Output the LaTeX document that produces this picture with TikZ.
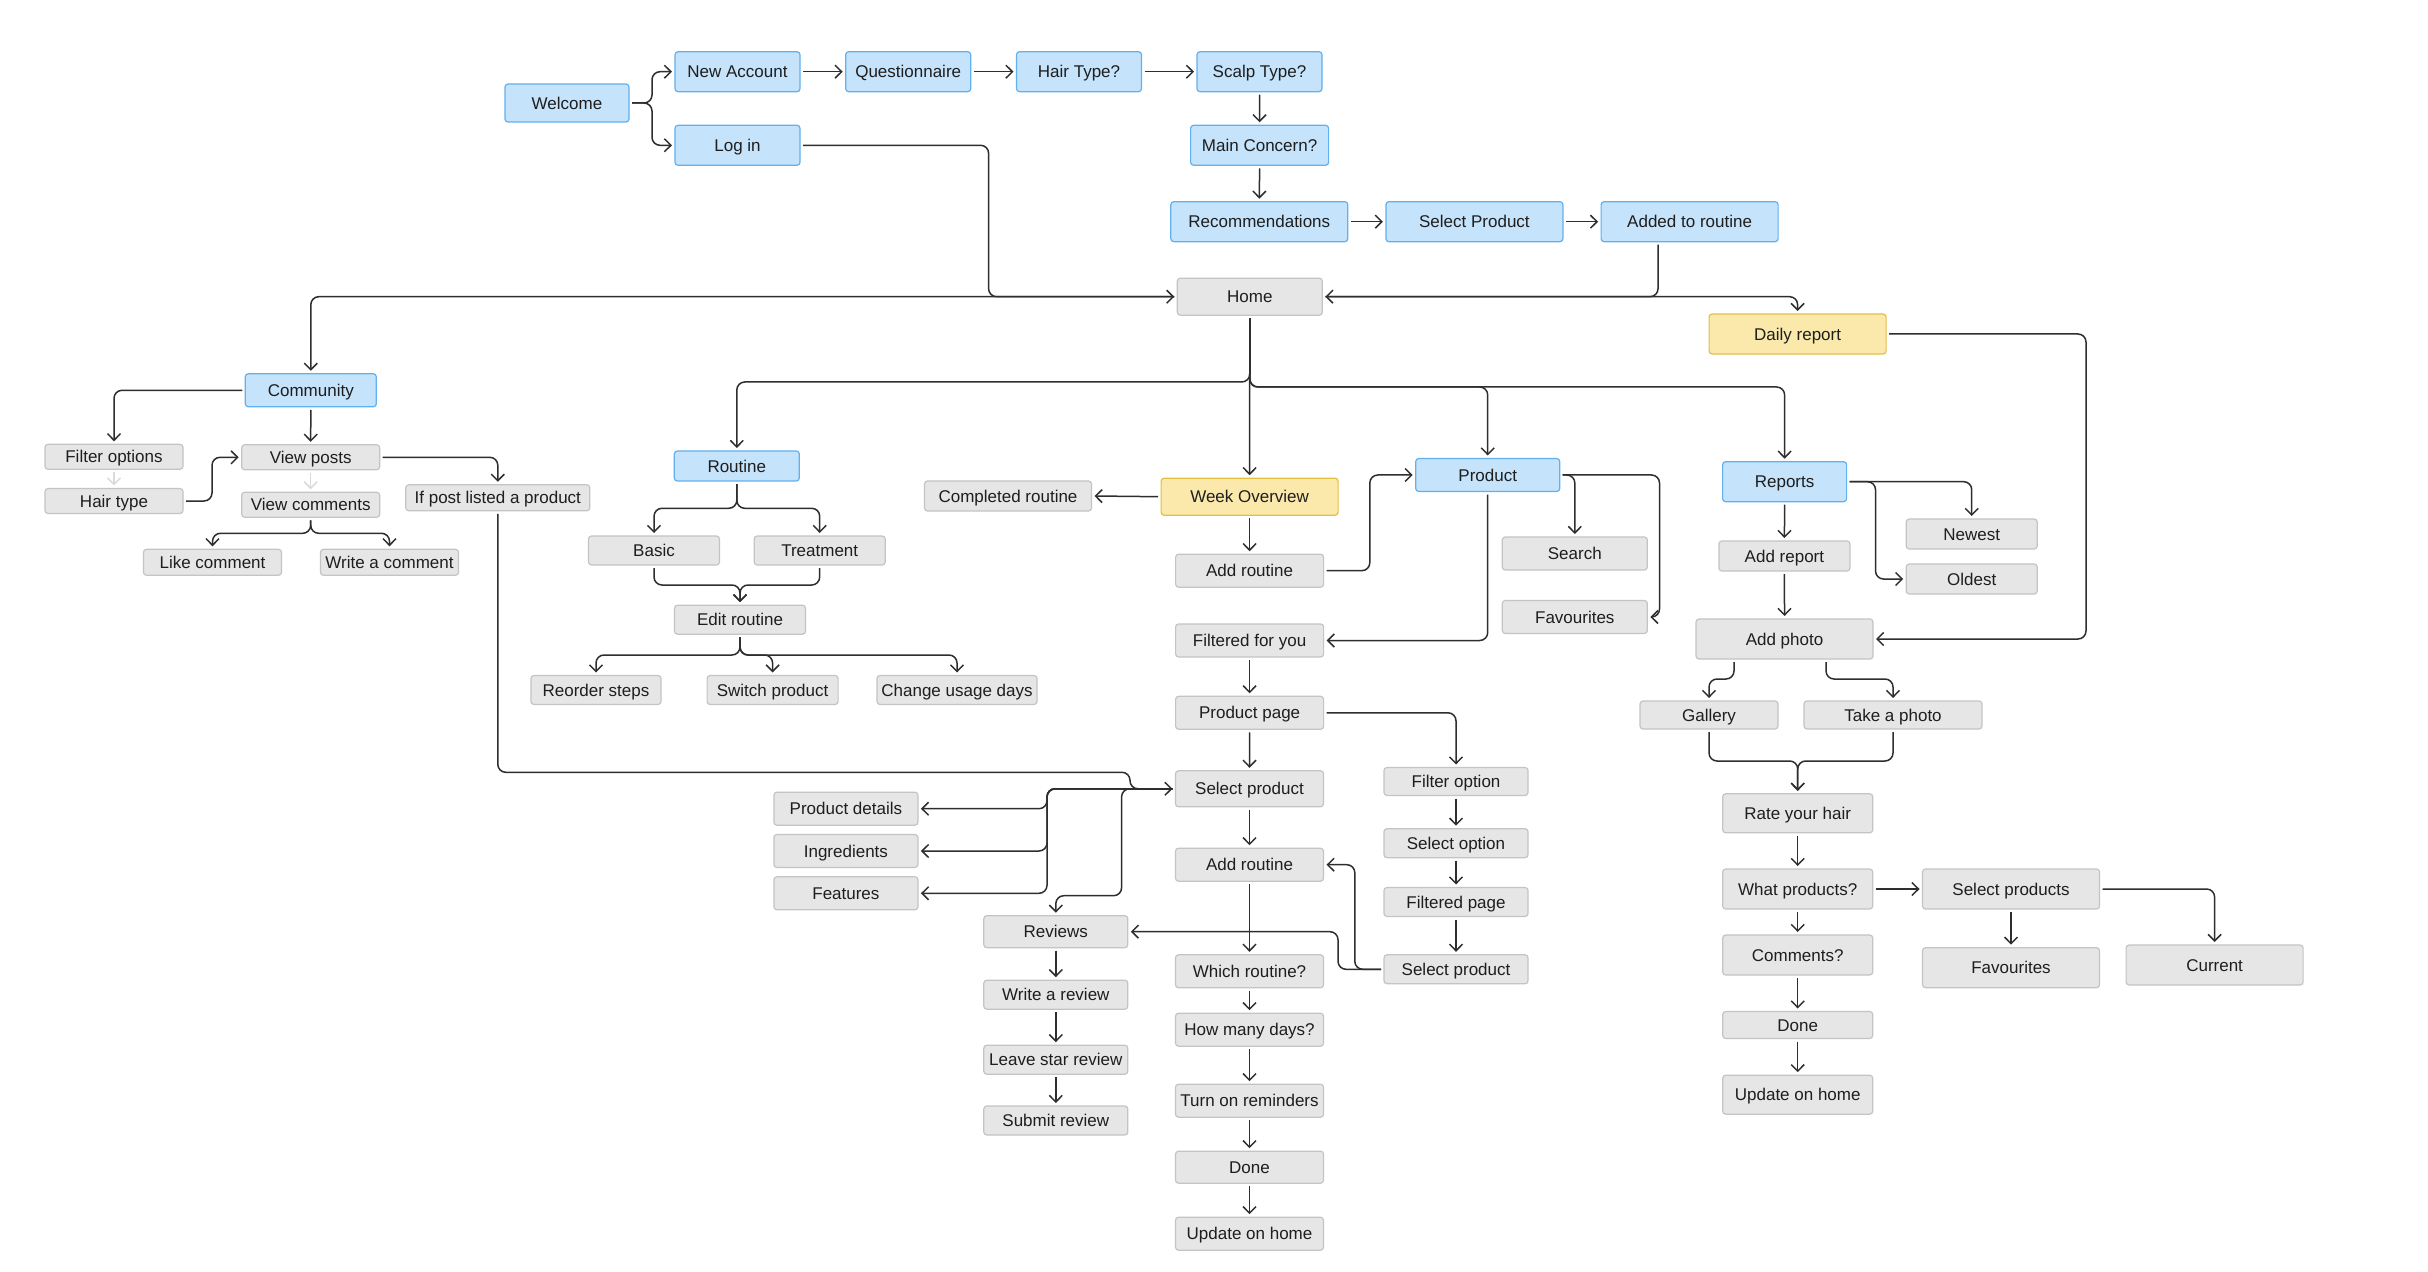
\documentclass[tikz,border=0pt]{standalone}
\usepackage{fontspec}
\setmainfont{Liberation Sans}
\usetikzlibrary{arrows.meta}
\definecolor{bfill}{HTML}{C5E3FA}
\definecolor{bline}{HTML}{62B0F0}
\definecolor{yfill}{HTML}{FBE9AC}
\definecolor{yline}{HTML}{E2C044}
\definecolor{gfill}{HTML}{E6E6E6}
\definecolor{gline}{HTML}{C4C4C4}
\definecolor{wire}{HTML}{2E2E2E}
\definecolor{faint}{HTML}{DADADA}
\definecolor{txt}{HTML}{1E1E1E}
\begin{document}
\begin{tikzpicture}[x=0.5pt,y=-0.5pt,
 box/.style={draw, rounded corners=1.5pt, line width=0.6pt, inner sep=0pt, outer sep=1.5pt, font=\fontsize{8.5pt}{10pt}\selectfont, text=txt, text height=6.1pt, text depth=0pt},
 bl/.style={box, fill=bfill, draw=bline},
 yl/.style={box, fill=yfill, draw=yline},
 gr/.style={box, fill=gfill, draw=gline},
 sz/.style 2 args={minimum width=#1*0.5pt, minimum height=#2*0.5pt},
 arr/.style={draw=wire, line width=0.75pt, rounded corners=4pt, -{Straight Barb[length=3.3pt,width=6.5pt]}},
 fa/.style={arr, draw=faint}]
\fill[white] (0,0) rectangle (2428,1272);
\useasboundingbox (0,0) rectangle (2428,1272);

% top flow
\node[bl, sz={124}{38}] (welcome) at (567,103) {Welcome};
\node[bl, sz={125}{40}] (newacc) at (737.5,71.7) {New Account};
\node[bl, sz={125}{40}] (login) at (737.5,145.3) {Log in};
\node[bl, sz={125}{40}] (quest) at (908.2,71.7) {Questionnaire};
\node[bl, sz={125}{40}] (hairq) at (1079,71.7) {Hair Type?};
\node[bl, sz={125}{40}] (scalp) at (1259.5,71.7) {Scalp Type?};
\node[bl, sz={138}{40}] (concern) at (1259.6,145.3) {Main Concern?};
\node[bl, sz={177}{40}] (recom) at (1259.3,221.7) {Recommendations};
\node[bl, sz={177}{40}] (selprod) at (1474.4,221.7) {Select Product};
\node[bl, sz={177}{40}] (added) at (1689.6,221.7) {Added to routine};
\node[gr, sz={145}{37}] (home) at (1249.8,296.7) {Home};
\node[yl, sz={177}{40}] (daily) at (1797.6,334) {Daily report};

% level 2
\node[bl, sz={131}{33}] (community) at (310.8,390.3) {Community};
\node[bl, sz={125}{30}] (routine) at (736.8,466) {Routine};
\node[yl, sz={177}{37}] (week) at (1249.6,496.7) {Week Overview};
\node[bl, sz={144}{33}] (product) at (1487.7,475) {Product};
\node[bl, sz={124}{40}] (reports) at (1784.6,481.7) {Reports};

% community
\node[gr, sz={138}{25}] (filteropt) at (114,456.8) {Filter options};
\node[gr, sz={138}{25}] (hairtype) at (114,501) {Hair type};
\node[gr, sz={138}{25}] (viewposts) at (310.7,457.3) {View posts};
\node[gr, sz={138}{25}] (viewcomm) at (310.7,504.8) {View comments};
\node[gr, sz={184}{26}] (ifpost) at (497.8,497.8) {If post listed a product};
\node[gr, sz={138}{26}] (like) at (212.5,562.3) {Like comment};
\node[gr, sz={138}{26}] (writec) at (389.5,562.3) {Write a comment};

% routine
\node[gr, sz={131}{29}] (basic) at (654,550.5) {Basic};
\node[gr, sz={131}{29}] (treat) at (819.7,550.5) {Treatment};
\node[gr, sz={131}{29}] (edit) at (740,619.7) {Edit routine};
\node[gr, sz={130}{29}] (reorder) at (596,690) {Reorder steps};
\node[gr, sz={131}{29}] (switch) at (772.6,690) {Switch product};
\node[gr, sz={160}{29}] (change) at (957,690) {Change usage days};

% week / product
\node[gr, sz={167}{30}] (completed) at (1008,496) {Completed routine};
\node[gr, sz={148}{33}] (addroutine) at (1249.6,570.7) {Add routine};
\node[gr, sz={148}{33}] (filtered) at (1249.6,640.5) {Filtered for you};
\node[gr, sz={148}{33}] (prodpage) at (1249.6,712.8) {Product page};
\node[gr, sz={145}{33}] (search) at (1574.8,553.5) {Search};
\node[gr, sz={145}{33}] (favs) at (1574.8,617) {Favourites};

\node[gr, sz={148}{36}] (selprodm) at (1249.5,788.8) {Select product};
\node[gr, sz={148}{33}] (addroutine2) at (1249.5,864.7) {Add routine};
\node[gr, sz={148}{33}] (which) at (1249.5,971.3) {Which routine?};
\node[gr, sz={148}{33}] (howmany) at (1249.5,1029.7) {How many days?};
\node[gr, sz={148}{33}] (turnon) at (1249.5,1100.7) {Turn on reminders};
\node[gr, sz={148}{32}] (done1) at (1249.5,1167.2) {Done};
\node[gr, sz={148}{33}] (update1) at (1249.5,1233.7) {Update on home};

\node[gr, sz={144}{33}] (proddet) at (845.9,808.7) {Product details};
\node[gr, sz={144}{33}] (ingred) at (845.9,851) {Ingredients};
\node[gr, sz={144}{33}] (features) at (845.9,893.3) {Features};
\node[gr, sz={144}{32}] (reviews) at (1055.8,931.7) {Reviews};
\node[gr, sz={144}{29}] (writerev) at (1055.8,994.7) {Write a review};
\node[gr, sz={144}{29}] (leavestar) at (1055.8,1059.7) {Leave star review};
\node[gr, sz={144}{29}] (submit) at (1055.8,1120.5) {Submit review};

\node[gr, sz={144}{28}] (filteropt2) at (1456,781.5) {Filter option};
\node[gr, sz={144}{29}] (selopt) at (1456,843.2) {Select option};
\node[gr, sz={144}{29}] (filtpage) at (1456,902) {Filtered page};
\node[gr, sz={144}{29}] (selprodr) at (1456,969.3) {Select product};

% reports
\node[gr, sz={131}{30}] (addreport) at (1784.4,556) {Add report};
\node[gr, sz={131}{30}] (newest) at (1971.7,534) {Newest};
\node[gr, sz={131}{30}] (oldest) at (1971.7,579) {Oldest};
\node[gr, sz={177}{40}] (addphoto) at (1784.5,639) {Add photo};
\node[gr, sz={138}{28}] (gallery) at (1709,715) {Gallery};
\node[gr, sz={178}{28}] (takephoto) at (1893,715) {Take a photo};
\node[gr, sz={150}{39}] (rate) at (1797.7,813.3) {Rate your hair};
\node[gr, sz={150}{40}] (whatprod) at (1797.7,889) {What products?};
\node[gr, sz={150}{40}] (comments) at (1797.7,955) {Comments?};
\node[gr, sz={150}{27}] (done2) at (1797.7,1025) {Done};
\node[gr, sz={150}{39}] (update2) at (1797.7,1094.7) {Update on home};
\node[gr, sz={177}{40}] (selprods) at (2011,889) {Select products};
\node[gr, sz={177}{40}] (favs2) at (2011,967.7) {Favourites};
\node[gr, sz={177}{40}] (current) at (2214.6,965) {Current};

% connectors: top
\draw[arr] (welcome.east) -- (652,103) |- (newacc.west);
\draw[arr] (welcome.east) -- (652,103) |- (login.west);
\draw[arr] (newacc.east) -- (quest.west);
\draw[arr] (quest.east) -- (hairq.west);
\draw[arr] (hairq.east) -- (scalp.west);
\draw[arr] (scalp.south) -- (concern.north);
\draw[arr] (concern.south) -- (recom.north);
\draw[arr] (recom.east) -- (selprod.west);
\draw[arr] (selprod.east) -- (added.west);
\draw[arr] ([xshift=-15.8pt]added.south) |- (home.east);
\draw[arr] (home.east) -| (daily.north);
\draw[arr] (daily.east) -| (2086,639) -- (addphoto.east);
\draw[arr] (login.east) -| (988.6,296.7) -- (home.west);
\draw[arr] (home.west) -| (community.north);
\draw[arr] (home.south) -- (1249.8,382) -| (routine.north);
\draw[arr] (home.south) -- (1249.8,387) -| (product.north);
\draw[arr] (home.south) -- (1249.8,387) -| (reports.north);
\draw[arr] (home.south) -- (week.north);

% community
\draw[arr] (community.west) -| (filteropt.north);
\draw[arr] (community.south) -- (viewposts.north);
\draw[fa] (filteropt.south) -- (hairtype.north);
\draw[fa] (viewposts.south) -- (viewcomm.north);
\draw[arr] (hairtype.east) -- (212,501) |- (viewposts.west);
\draw[arr] (viewposts.east) -| (ifpost.north);
\draw[arr] (viewcomm.south) -- (310.7,533.3) -| (like.north);
\draw[arr] (viewcomm.south) -- (310.7,533.3) -| (writec.north);
\draw[arr] (ifpost.south) |- (1130,772.3) |- (selprodm.west);

% routine
\draw[arr] (routine.south) -- (736.8,508.3) -| (basic.north);
\draw[arr] (routine.south) -- (736.8,508.3) -| (treat.north);
\draw[arr] (basic.south) |- (740,585) -- (edit.north);
\draw[arr] (treat.south) |- (740,585) -- (edit.north);
\draw[arr] (edit.south) -- (740,655) -| (reorder.north);
\draw[arr] (edit.south) -- (740,655) -| (switch.north);
\draw[arr] (edit.south) -- (740,655) -| (change.north);

% week / product
\draw[arr] (week.west) -- (completed.east);
\draw[arr] (week.south) -- (addroutine.north);
\draw[arr] (addroutine.east) -- (1369.8,570.7) |- (product.west);
\draw[arr] (product.east) -| (search.north);
\draw[arr] (product.east) -- (1659.5,475) |- (favs.east);
\draw[arr] (product.south) |- (filtered.east);
\draw[arr] (filtered.south) -- (prodpage.north);
\draw[arr] (prodpage.south) -- (selprodm.north);
\draw[arr] (prodpage.east) -| (filteropt2.north);
\draw[arr] (filteropt2.south) -- (selopt.north);
\draw[arr] (selopt.south) -- (filtpage.north);
\draw[arr] (filtpage.south) -- (selprodr.north);
\draw[arr] (selprodr.west) -- (1354.8,969.3) |- (addroutine2.east);
\draw[arr] (selprodr.west) -- (1338,969.3) |- (reviews.east);
\draw[arr] (selprodm.west) -- (1047,788.8) |- (proddet.east);
\draw[arr] (selprodm.west) -- (1047,788.8) |- (ingred.east);
\draw[arr] (selprodm.west) -- (1047,788.8) |- (features.east);
\draw[arr] (selprodm.west) -- (1121.6,788.8) |- (1055.8,895.7) -- (reviews.north);
\draw[arr] (selprodm.south) -- (addroutine2.north);
\draw[arr] (addroutine2.south) -- (which.north);
\draw[arr] (which.south) -- (howmany.north);
\draw[arr] (howmany.south) -- (turnon.north);
\draw[arr] (turnon.south) -- (done1.north);
\draw[arr] (done1.south) -- (update1.north);
\draw[arr] (reviews.south) -- (writerev.north);
\draw[arr] (writerev.south) -- (leavestar.north);
\draw[arr] (leavestar.south) -- (submit.north);

% reports
\draw[arr] (reports.south) -- (addreport.north);
\draw[arr] (reports.east) -| (newest.north);
\draw[arr] (reports.east) -- (1875.5,481.7) |- (oldest.west);
\draw[arr] (addreport.south) -- (addphoto.north);
\draw[arr] ([xshift=-25.25pt]addphoto.south) -- (1734,679) -| (gallery.north);
\draw[arr] ([xshift=20.75pt]addphoto.south) -- (1826,679) -| (takephoto.north);
\draw[arr] (gallery.south) |- (1797.7,761) -- (rate.north);
\draw[arr] (takephoto.south) |- (1797.7,761) -- (rate.north);
\draw[arr] (rate.south) -- (whatprod.north);
\draw[arr] (whatprod.south) -- (comments.north);
\draw[arr] (comments.south) -- (done2.north);
\draw[arr] (done2.south) -- (update2.north);
\draw[arr] (whatprod.east) -- (selprods.west);
\draw[arr] (selprods.south) -- (favs2.north);
\draw[arr] (selprods.east) -| (current.north);
\end{tikzpicture}
\end{document}
